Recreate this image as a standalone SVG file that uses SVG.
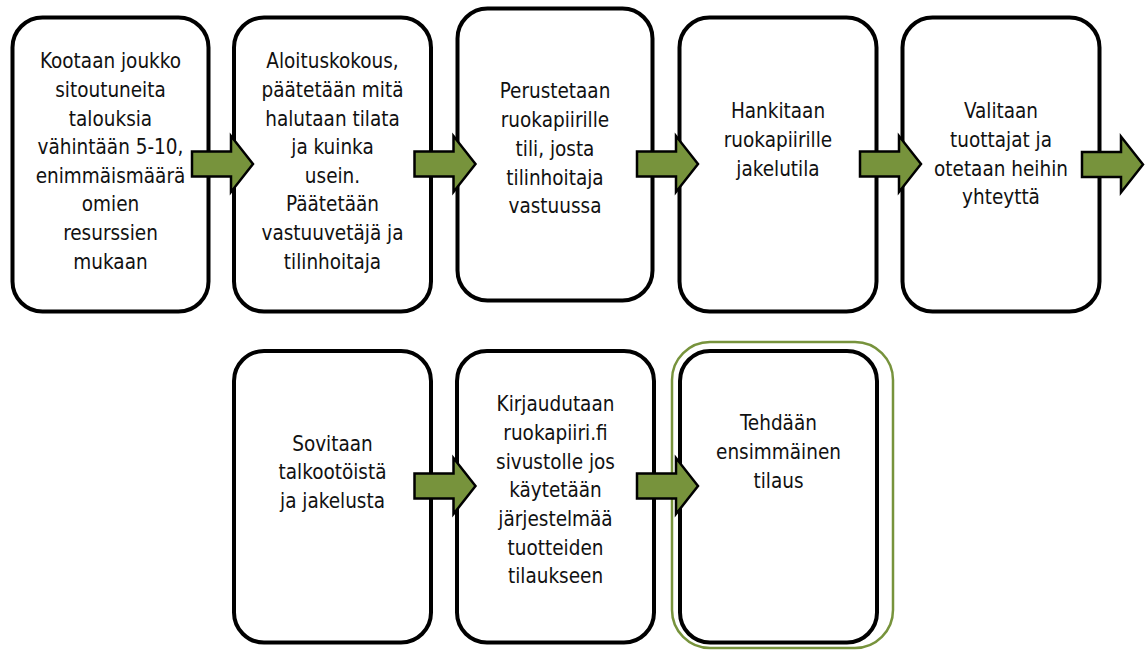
<svg xmlns="http://www.w3.org/2000/svg" width="1147" height="650" viewBox="0 0 1147 650">
  <style>
    .box { fill: #ffffff; stroke: #000000; stroke-width: 4; }
    .hl { fill: none; stroke: #77933C; stroke-width: 2.5; }
    .lbl { font-family: "DejaVu Sans Condensed", "DejaVu Sans", sans-serif; font-stretch: condensed; font-size: 20.5px; fill: #111111; text-anchor: middle; }
    .arrow { fill: #77933C; stroke: #000000; stroke-width: 2.5; stroke-linejoin: miter; }
  </style>
  <defs>
    <path id="arr" d="M0,-12.5 L39,-12.5 L39,-28 L61,0 L39,28 L39,12.5 L0,12.5 Z"/>
  </defs>
  <rect width="1147" height="650" fill="#ffffff"/>

  <g id="node1">
    <rect class="box" x="12.5" y="17.5" width="196" height="294" rx="30"/>
    <text class="lbl" x="110.5" y="68">Kootaan joukko</text>
    <text class="lbl" x="110.5" y="97">sitoutuneita</text>
    <text class="lbl" x="110.5" y="125.5">talouksia</text>
    <text class="lbl" x="110.5" y="154">vähintään 5-10,</text>
    <text class="lbl" x="110.5" y="183">enimmäismäärä</text>
    <text class="lbl" x="110.5" y="211">omien</text>
    <text class="lbl" x="110.5" y="240">resurssien</text>
    <text class="lbl" x="110.5" y="269">mukaan</text>
  </g>

  <g id="node2">
    <rect class="box" x="234" y="17.5" width="197" height="294" rx="30"/>
    <text class="lbl" x="332.5" y="68">Aloituskokous,</text>
    <text class="lbl" x="332.5" y="97">päätetään mitä</text>
    <text class="lbl" x="332.5" y="125.5">halutaan tilata</text>
    <text class="lbl" x="332.5" y="154">ja kuinka</text>
    <text class="lbl" x="332.5" y="183">usein.</text>
    <text class="lbl" x="332.5" y="211">Päätetään</text>
    <text class="lbl" x="332.5" y="240">vastuuvetäjä ja</text>
    <text class="lbl" x="332.5" y="269">tilinhoitaja</text>
  </g>

  <g id="node3">
    <rect class="box" x="457.5" y="8.5" width="195" height="292" rx="30"/>
    <text class="lbl" x="555" y="98">Perustetaan</text>
    <text class="lbl" x="555" y="127">ruokapiirille</text>
    <text class="lbl" x="555" y="156">tili, josta</text>
    <text class="lbl" x="555" y="184.5">tilinhoitaja</text>
    <text class="lbl" x="555" y="213">vastuussa</text>
  </g>

  <g id="node4">
    <rect class="box" x="679.5" y="17.5" width="197" height="294" rx="30"/>
    <text class="lbl" x="778" y="118">Hankitaan</text>
    <text class="lbl" x="778" y="147">ruokapiirille</text>
    <text class="lbl" x="778" y="176">jakelutila</text>
  </g>

  <g id="node5">
    <rect class="box" x="902.5" y="17.5" width="197" height="294" rx="30"/>
    <text class="lbl" x="1001" y="118">Valitaan</text>
    <text class="lbl" x="1001" y="147">tuottajat ja</text>
    <text class="lbl" x="1001" y="176">otetaan heihin</text>
    <text class="lbl" x="1001" y="204">yhteyttä</text>
  </g>

  <g id="node6">
    <rect class="box" x="234" y="351" width="197" height="291.5" rx="30"/>
    <text class="lbl" x="332.5" y="451">Sovitaan</text>
    <text class="lbl" x="332.5" y="479">talkootöistä</text>
    <text class="lbl" x="332.5" y="508">ja jakelusta</text>
  </g>

  <g id="node7">
    <rect class="box" x="457" y="351" width="197" height="291.5" rx="30"/>
    <text class="lbl" x="555.5" y="411">Kirjaudutaan</text>
    <text class="lbl" x="555.5" y="440">ruokapiiri.fi</text>
    <text class="lbl" x="555.5" y="469">sivustolle jos</text>
    <text class="lbl" x="555.5" y="497">käytetään</text>
    <text class="lbl" x="555.5" y="526">järjestelmää</text>
    <text class="lbl" x="555.5" y="555">tuotteiden</text>
    <text class="lbl" x="555.5" y="583">tilaukseen</text>
  </g>

  <g id="node8">
    <rect class="hl" x="672" y="342" width="221" height="306" rx="38"/>
    <rect class="box" x="680" y="351" width="197" height="291.5" rx="30"/>
    <text class="lbl" x="778.5" y="430">Tehdään</text>
    <text class="lbl" x="778.5" y="459">ensimmäinen</text>
    <text class="lbl" x="778.5" y="488">tilaus</text>
  </g>

  <g id="connectors">
    <use href="#arr" class="arrow" transform="translate(192,164)"/>
    <use href="#arr" class="arrow" transform="translate(414.5,164)"/>
    <use href="#arr" class="arrow" transform="translate(637,164)"/>
    <use href="#arr" class="arrow" transform="translate(860,164)"/>
    <use href="#arr" class="arrow" transform="translate(1082,164.5)"/>
    <use href="#arr" class="arrow" transform="translate(414.5,486)"/>
    <use href="#arr" class="arrow" transform="translate(637,486)"/>
  </g>
</svg>
